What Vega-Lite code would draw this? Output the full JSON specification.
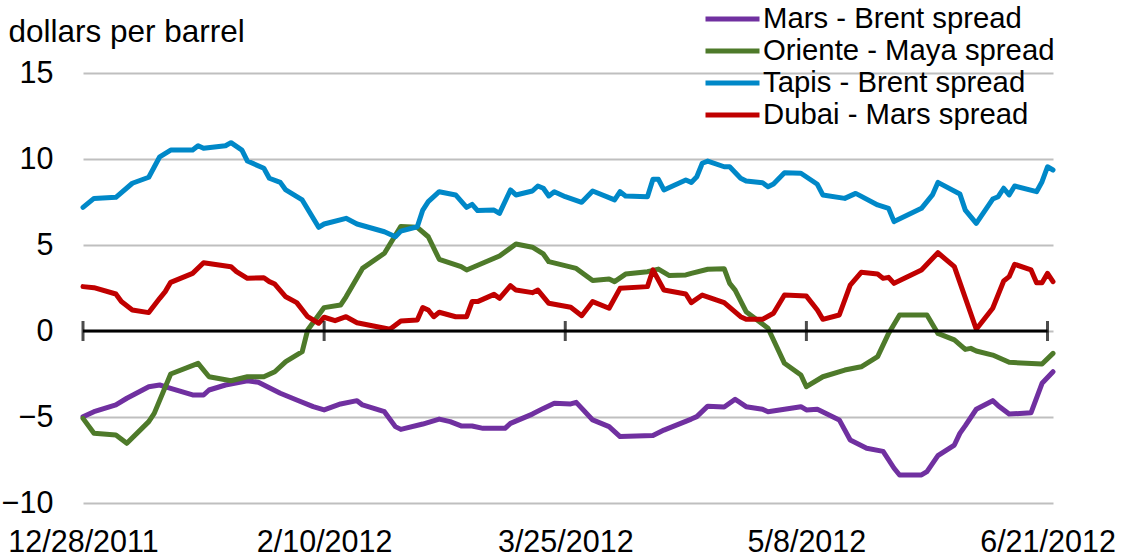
{
  "$schema": "https://vega.github.io/schema/vega-lite/v6.json",
  "width": 970,
  "height": 430,
  "autosize": {"type": "none"},
  "padding": {"left": 83, "top": 73, "right": 68, "bottom": 53},
  "config": {
    "view": {"stroke": null},
    "font": "Liberation Sans",
    "axis": {"labelFont": "Liberation Sans", "labelColor": "#000000"},
    "legend": {"labelFont": "Liberation Sans"}
  },
  "datasets": {
    "spreads": [
      {"s":"Mars - Brent spread","d":"2011-12-28","v":-4.98},
      {"s":"Mars - Brent spread","d":"2011-12-30","v":-4.69},
      {"s":"Mars - Brent spread","d":"2012-01-03","v":-4.3},
      {"s":"Mars - Brent spread","d":"2012-01-05","v":-3.91},
      {"s":"Mars - Brent spread","d":"2012-01-09","v":-3.24},
      {"s":"Mars - Brent spread","d":"2012-01-11","v":-3.14},
      {"s":"Mars - Brent spread","d":"2012-01-13","v":-3.33},
      {"s":"Mars - Brent spread","d":"2012-01-17","v":-3.72},
      {"s":"Mars - Brent spread","d":"2012-01-19","v":-3.72},
      {"s":"Mars - Brent spread","d":"2012-01-20","v":-3.43},
      {"s":"Mars - Brent spread","d":"2012-01-23","v":-3.14},
      {"s":"Mars - Brent spread","d":"2012-01-27","v":-2.89},
      {"s":"Mars - Brent spread","d":"2012-01-29","v":-2.98},
      {"s":"Mars - Brent spread","d":"2012-02-02","v":-3.62},
      {"s":"Mars - Brent spread","d":"2012-02-05","v":-4.01},
      {"s":"Mars - Brent spread","d":"2012-02-08","v":-4.4},
      {"s":"Mars - Brent spread","d":"2012-02-10","v":-4.59},
      {"s":"Mars - Brent spread","d":"2012-02-13","v":-4.24},
      {"s":"Mars - Brent spread","d":"2012-02-16","v":-4.05},
      {"s":"Mars - Brent spread","d":"2012-02-17","v":-4.3},
      {"s":"Mars - Brent spread","d":"2012-02-21","v":-4.69},
      {"s":"Mars - Brent spread","d":"2012-02-23","v":-5.56},
      {"s":"Mars - Brent spread","d":"2012-02-24","v":-5.72},
      {"s":"Mars - Brent spread","d":"2012-02-28","v":-5.41},
      {"s":"Mars - Brent spread","d":"2012-03-02","v":-5.12},
      {"s":"Mars - Brent spread","d":"2012-03-04","v":-5.27},
      {"s":"Mars - Brent spread","d":"2012-03-06","v":-5.52},
      {"s":"Mars - Brent spread","d":"2012-03-08","v":-5.52},
      {"s":"Mars - Brent spread","d":"2012-03-10","v":-5.66},
      {"s":"Mars - Brent spread","d":"2012-03-14","v":-5.66},
      {"s":"Mars - Brent spread","d":"2012-03-15","v":-5.37},
      {"s":"Mars - Brent spread","d":"2012-03-19","v":-4.83},
      {"s":"Mars - Brent spread","d":"2012-03-21","v":-4.5},
      {"s":"Mars - Brent spread","d":"2012-03-23","v":-4.2},
      {"s":"Mars - Brent spread","d":"2012-03-26","v":-4.24},
      {"s":"Mars - Brent spread","d":"2012-03-27","v":-4.15},
      {"s":"Mars - Brent spread","d":"2012-03-30","v":-5.17},
      {"s":"Mars - Brent spread","d":"2012-04-02","v":-5.56},
      {"s":"Mars - Brent spread","d":"2012-04-04","v":-6.14},
      {"s":"Mars - Brent spread","d":"2012-04-10","v":-6.08},
      {"s":"Mars - Brent spread","d":"2012-04-12","v":-5.76},
      {"s":"Mars - Brent spread","d":"2012-04-17","v":-5.12},
      {"s":"Mars - Brent spread","d":"2012-04-18","v":-4.98},
      {"s":"Mars - Brent spread","d":"2012-04-20","v":-4.37},
      {"s":"Mars - Brent spread","d":"2012-04-23","v":-4.42},
      {"s":"Mars - Brent spread","d":"2012-04-25","v":-3.97},
      {"s":"Mars - Brent spread","d":"2012-04-27","v":-4.4},
      {"s":"Mars - Brent spread","d":"2012-04-30","v":-4.55},
      {"s":"Mars - Brent spread","d":"2012-05-01","v":-4.69},
      {"s":"Mars - Brent spread","d":"2012-05-04","v":-4.55},
      {"s":"Mars - Brent spread","d":"2012-05-07","v":-4.4},
      {"s":"Mars - Brent spread","d":"2012-05-08","v":-4.59},
      {"s":"Mars - Brent spread","d":"2012-05-10","v":-4.55},
      {"s":"Mars - Brent spread","d":"2012-05-14","v":-5.17},
      {"s":"Mars - Brent spread","d":"2012-05-16","v":-6.34},
      {"s":"Mars - Brent spread","d":"2012-05-19","v":-6.82},
      {"s":"Mars - Brent spread","d":"2012-05-22","v":-7.0},
      {"s":"Mars - Brent spread","d":"2012-05-24","v":-7.98},
      {"s":"Mars - Brent spread","d":"2012-05-25","v":-8.37},
      {"s":"Mars - Brent spread","d":"2012-05-29","v":-8.37},
      {"s":"Mars - Brent spread","d":"2012-05-30","v":-8.18},
      {"s":"Mars - Brent spread","d":"2012-06-01","v":-7.25},
      {"s":"Mars - Brent spread","d":"2012-06-04","v":-6.63},
      {"s":"Mars - Brent spread","d":"2012-06-05","v":-5.95},
      {"s":"Mars - Brent spread","d":"2012-06-06","v":-5.5},
      {"s":"Mars - Brent spread","d":"2012-06-08","v":-4.55},
      {"s":"Mars - Brent spread","d":"2012-06-11","v":-4.05},
      {"s":"Mars - Brent spread","d":"2012-06-12","v":-4.34},
      {"s":"Mars - Brent spread","d":"2012-06-14","v":-4.83},
      {"s":"Mars - Brent spread","d":"2012-06-18","v":-4.75},
      {"s":"Mars - Brent spread","d":"2012-06-20","v":-3.04},
      {"s":"Mars - Brent spread","d":"2012-06-22","v":-2.37},

      {"s":"Oriente - Maya spread","d":"2011-12-28","v":-5.08},
      {"s":"Oriente - Maya spread","d":"2011-12-30","v":-5.95},
      {"s":"Oriente - Maya spread","d":"2012-01-03","v":-6.05},
      {"s":"Oriente - Maya spread","d":"2012-01-05","v":-6.53},
      {"s":"Oriente - Maya spread","d":"2012-01-09","v":-5.27},
      {"s":"Oriente - Maya spread","d":"2012-01-10","v":-4.79},
      {"s":"Oriente - Maya spread","d":"2012-01-13","v":-2.5},
      {"s":"Oriente - Maya spread","d":"2012-01-18","v":-1.88},
      {"s":"Oriente - Maya spread","d":"2012-01-20","v":-2.66},
      {"s":"Oriente - Maya spread","d":"2012-01-24","v":-2.89},
      {"s":"Oriente - Maya spread","d":"2012-01-27","v":-2.66},
      {"s":"Oriente - Maya spread","d":"2012-01-30","v":-2.66},
      {"s":"Oriente - Maya spread","d":"2012-02-01","v":-2.37},
      {"s":"Oriente - Maya spread","d":"2012-02-03","v":-1.78},
      {"s":"Oriente - Maya spread","d":"2012-02-06","v":-1.2},
      {"s":"Oriente - Maya spread","d":"2012-02-07","v":0.06},
      {"s":"Oriente - Maya spread","d":"2012-02-09","v":0.93},
      {"s":"Oriente - Maya spread","d":"2012-02-10","v":1.36},
      {"s":"Oriente - Maya spread","d":"2012-02-13","v":1.51},
      {"s":"Oriente - Maya spread","d":"2012-02-14","v":1.99},
      {"s":"Oriente - Maya spread","d":"2012-02-17","v":3.64},
      {"s":"Oriente - Maya spread","d":"2012-02-21","v":4.52},
      {"s":"Oriente - Maya spread","d":"2012-02-24","v":6.08},
      {"s":"Oriente - Maya spread","d":"2012-02-27","v":6.03},
      {"s":"Oriente - Maya spread","d":"2012-02-29","v":5.48},
      {"s":"Oriente - Maya spread","d":"2012-03-02","v":4.17},
      {"s":"Oriente - Maya spread","d":"2012-03-06","v":3.74},
      {"s":"Oriente - Maya spread","d":"2012-03-07","v":3.55},
      {"s":"Oriente - Maya spread","d":"2012-03-13","v":4.36},
      {"s":"Oriente - Maya spread","d":"2012-03-16","v":5.06},
      {"s":"Oriente - Maya spread","d":"2012-03-19","v":4.87},
      {"s":"Oriente - Maya spread","d":"2012-03-21","v":4.48},
      {"s":"Oriente - Maya spread","d":"2012-03-22","v":4.03},
      {"s":"Oriente - Maya spread","d":"2012-03-27","v":3.64},
      {"s":"Oriente - Maya spread","d":"2012-03-30","v":2.93},
      {"s":"Oriente - Maya spread","d":"2012-04-02","v":3.02},
      {"s":"Oriente - Maya spread","d":"2012-04-03","v":2.87},
      {"s":"Oriente - Maya spread","d":"2012-04-05","v":3.31},
      {"s":"Oriente - Maya spread","d":"2012-04-09","v":3.45},
      {"s":"Oriente - Maya spread","d":"2012-04-11","v":3.6},
      {"s":"Oriente - Maya spread","d":"2012-04-13","v":3.22},
      {"s":"Oriente - Maya spread","d":"2012-04-16","v":3.26},
      {"s":"Oriente - Maya spread","d":"2012-04-17","v":3.35},
      {"s":"Oriente - Maya spread","d":"2012-04-20","v":3.59},
      {"s":"Oriente - Maya spread","d":"2012-04-23","v":3.62},
      {"s":"Oriente - Maya spread","d":"2012-04-24","v":2.77},
      {"s":"Oriente - Maya spread","d":"2012-04-25","v":2.38},
      {"s":"Oriente - Maya spread","d":"2012-04-27","v":1.12},
      {"s":"Oriente - Maya spread","d":"2012-05-01","v":0.16},
      {"s":"Oriente - Maya spread","d":"2012-05-04","v":-1.88},
      {"s":"Oriente - Maya spread","d":"2012-05-07","v":-2.56},
      {"s":"Oriente - Maya spread","d":"2012-05-08","v":-3.24},
      {"s":"Oriente - Maya spread","d":"2012-05-11","v":-2.66},
      {"s":"Oriente - Maya spread","d":"2012-05-15","v":-2.27},
      {"s":"Oriente - Maya spread","d":"2012-05-18","v":-2.08},
      {"s":"Oriente - Maya spread","d":"2012-05-21","v":-1.49},
      {"s":"Oriente - Maya spread","d":"2012-05-23","v":-0.14},
      {"s":"Oriente - Maya spread","d":"2012-05-25","v":0.93},
      {"s":"Oriente - Maya spread","d":"2012-05-30","v":0.93},
      {"s":"Oriente - Maya spread","d":"2012-06-01","v":-0.14},
      {"s":"Oriente - Maya spread","d":"2012-06-04","v":-0.52},
      {"s":"Oriente - Maya spread","d":"2012-06-06","v":-1.07},
      {"s":"Oriente - Maya spread","d":"2012-06-07","v":-1.01},
      {"s":"Oriente - Maya spread","d":"2012-06-08","v":-1.16},
      {"s":"Oriente - Maya spread","d":"2012-06-11","v":-1.4},
      {"s":"Oriente - Maya spread","d":"2012-06-14","v":-1.82},
      {"s":"Oriente - Maya spread","d":"2012-06-20","v":-1.92},
      {"s":"Oriente - Maya spread","d":"2012-06-22","v":-1.3},

      {"s":"Tapis - Brent spread","d":"2011-12-28","v":7.19},
      {"s":"Tapis - Brent spread","d":"2011-12-30","v":7.71},
      {"s":"Tapis - Brent spread","d":"2012-01-03","v":7.77},
      {"s":"Tapis - Brent spread","d":"2012-01-06","v":8.59},
      {"s":"Tapis - Brent spread","d":"2012-01-09","v":8.94},
      {"s":"Tapis - Brent spread","d":"2012-01-11","v":10.13},
      {"s":"Tapis - Brent spread","d":"2012-01-13","v":10.52},
      {"s":"Tapis - Brent spread","d":"2012-01-17","v":10.52},
      {"s":"Tapis - Brent spread","d":"2012-01-18","v":10.77},
      {"s":"Tapis - Brent spread","d":"2012-01-19","v":10.62},
      {"s":"Tapis - Brent spread","d":"2012-01-23","v":10.77},
      {"s":"Tapis - Brent spread","d":"2012-01-24","v":10.95},
      {"s":"Tapis - Brent spread","d":"2012-01-26","v":10.52},
      {"s":"Tapis - Brent spread","d":"2012-01-27","v":9.88},
      {"s":"Tapis - Brent spread","d":"2012-01-30","v":9.46},
      {"s":"Tapis - Brent spread","d":"2012-01-31","v":8.88},
      {"s":"Tapis - Brent spread","d":"2012-02-02","v":8.64},
      {"s":"Tapis - Brent spread","d":"2012-02-03","v":8.2},
      {"s":"Tapis - Brent spread","d":"2012-02-06","v":7.62},
      {"s":"Tapis - Brent spread","d":"2012-02-09","v":6.03},
      {"s":"Tapis - Brent spread","d":"2012-02-10","v":6.22},
      {"s":"Tapis - Brent spread","d":"2012-02-14","v":6.55},
      {"s":"Tapis - Brent spread","d":"2012-02-16","v":6.22},
      {"s":"Tapis - Brent spread","d":"2012-02-21","v":5.77},
      {"s":"Tapis - Brent spread","d":"2012-02-23","v":5.48},
      {"s":"Tapis - Brent spread","d":"2012-02-24","v":5.81},
      {"s":"Tapis - Brent spread","d":"2012-02-27","v":6.06},
      {"s":"Tapis - Brent spread","d":"2012-02-28","v":7.03},
      {"s":"Tapis - Brent spread","d":"2012-02-29","v":7.52},
      {"s":"Tapis - Brent spread","d":"2012-03-02","v":8.1},
      {"s":"Tapis - Brent spread","d":"2012-03-05","v":7.91},
      {"s":"Tapis - Brent spread","d":"2012-03-07","v":7.19},
      {"s":"Tapis - Brent spread","d":"2012-03-08","v":7.36},
      {"s":"Tapis - Brent spread","d":"2012-03-09","v":7.0},
      {"s":"Tapis - Brent spread","d":"2012-03-12","v":7.03},
      {"s":"Tapis - Brent spread","d":"2012-03-13","v":6.84},
      {"s":"Tapis - Brent spread","d":"2012-03-15","v":8.2},
      {"s":"Tapis - Brent spread","d":"2012-03-16","v":7.91},
      {"s":"Tapis - Brent spread","d":"2012-03-19","v":8.14},
      {"s":"Tapis - Brent spread","d":"2012-03-20","v":8.43},
      {"s":"Tapis - Brent spread","d":"2012-03-21","v":8.3},
      {"s":"Tapis - Brent spread","d":"2012-03-22","v":7.85},
      {"s":"Tapis - Brent spread","d":"2012-03-23","v":8.1},
      {"s":"Tapis - Brent spread","d":"2012-03-25","v":7.81},
      {"s":"Tapis - Brent spread","d":"2012-03-28","v":7.48},
      {"s":"Tapis - Brent spread","d":"2012-03-30","v":8.14},
      {"s":"Tapis - Brent spread","d":"2012-04-03","v":7.62},
      {"s":"Tapis - Brent spread","d":"2012-04-04","v":8.1},
      {"s":"Tapis - Brent spread","d":"2012-04-05","v":7.85},
      {"s":"Tapis - Brent spread","d":"2012-04-09","v":7.81},
      {"s":"Tapis - Brent spread","d":"2012-04-10","v":8.82},
      {"s":"Tapis - Brent spread","d":"2012-04-11","v":8.82},
      {"s":"Tapis - Brent spread","d":"2012-04-12","v":8.2},
      {"s":"Tapis - Brent spread","d":"2012-04-16","v":8.78},
      {"s":"Tapis - Brent spread","d":"2012-04-17","v":8.64},
      {"s":"Tapis - Brent spread","d":"2012-04-18","v":8.97},
      {"s":"Tapis - Brent spread","d":"2012-04-19","v":9.75},
      {"s":"Tapis - Brent spread","d":"2012-04-20","v":9.88},
      {"s":"Tapis - Brent spread","d":"2012-04-23","v":9.55},
      {"s":"Tapis - Brent spread","d":"2012-04-24","v":9.55},
      {"s":"Tapis - Brent spread","d":"2012-04-26","v":8.88},
      {"s":"Tapis - Brent spread","d":"2012-04-27","v":8.72},
      {"s":"Tapis - Brent spread","d":"2012-04-30","v":8.62},
      {"s":"Tapis - Brent spread","d":"2012-05-01","v":8.39},
      {"s":"Tapis - Brent spread","d":"2012-05-02","v":8.55},
      {"s":"Tapis - Brent spread","d":"2012-05-04","v":9.2},
      {"s":"Tapis - Brent spread","d":"2012-05-07","v":9.17},
      {"s":"Tapis - Brent spread","d":"2012-05-10","v":8.53},
      {"s":"Tapis - Brent spread","d":"2012-05-11","v":7.91},
      {"s":"Tapis - Brent spread","d":"2012-05-15","v":7.71},
      {"s":"Tapis - Brent spread","d":"2012-05-17","v":8.0},
      {"s":"Tapis - Brent spread","d":"2012-05-21","v":7.33},
      {"s":"Tapis - Brent spread","d":"2012-05-23","v":7.13},
      {"s":"Tapis - Brent spread","d":"2012-05-24","v":6.36},
      {"s":"Tapis - Brent spread","d":"2012-05-29","v":7.13},
      {"s":"Tapis - Brent spread","d":"2012-05-31","v":7.91},
      {"s":"Tapis - Brent spread","d":"2012-06-01","v":8.64},
      {"s":"Tapis - Brent spread","d":"2012-06-05","v":7.97},
      {"s":"Tapis - Brent spread","d":"2012-06-06","v":7.03},
      {"s":"Tapis - Brent spread","d":"2012-06-08","v":6.26},
      {"s":"Tapis - Brent spread","d":"2012-06-11","v":7.67},
      {"s":"Tapis - Brent spread","d":"2012-06-12","v":7.81},
      {"s":"Tapis - Brent spread","d":"2012-06-13","v":8.3},
      {"s":"Tapis - Brent spread","d":"2012-06-14","v":7.91},
      {"s":"Tapis - Brent spread","d":"2012-06-15","v":8.43},
      {"s":"Tapis - Brent spread","d":"2012-06-19","v":8.1},
      {"s":"Tapis - Brent spread","d":"2012-06-20","v":8.68},
      {"s":"Tapis - Brent spread","d":"2012-06-21","v":9.55},
      {"s":"Tapis - Brent spread","d":"2012-06-22","v":9.36},

      {"s":"Dubai - Mars spread","d":"2011-12-28","v":2.58},
      {"s":"Dubai - Mars spread","d":"2011-12-30","v":2.52},
      {"s":"Dubai - Mars spread","d":"2012-01-03","v":2.15},
      {"s":"Dubai - Mars spread","d":"2012-01-04","v":1.71},
      {"s":"Dubai - Mars spread","d":"2012-01-06","v":1.22},
      {"s":"Dubai - Mars spread","d":"2012-01-09","v":1.07},
      {"s":"Dubai - Mars spread","d":"2012-01-11","v":1.9},
      {"s":"Dubai - Mars spread","d":"2012-01-12","v":2.29},
      {"s":"Dubai - Mars spread","d":"2012-01-13","v":2.83},
      {"s":"Dubai - Mars spread","d":"2012-01-17","v":3.35},
      {"s":"Dubai - Mars spread","d":"2012-01-19","v":3.97},
      {"s":"Dubai - Mars spread","d":"2012-01-24","v":3.74},
      {"s":"Dubai - Mars spread","d":"2012-01-25","v":3.45},
      {"s":"Dubai - Mars spread","d":"2012-01-27","v":3.06},
      {"s":"Dubai - Mars spread","d":"2012-01-30","v":3.1},
      {"s":"Dubai - Mars spread","d":"2012-01-31","v":2.87},
      {"s":"Dubai - Mars spread","d":"2012-02-01","v":2.73},
      {"s":"Dubai - Mars spread","d":"2012-02-03","v":1.99},
      {"s":"Dubai - Mars spread","d":"2012-02-05","v":1.65},
      {"s":"Dubai - Mars spread","d":"2012-02-07","v":0.83},
      {"s":"Dubai - Mars spread","d":"2012-02-09","v":0.45},
      {"s":"Dubai - Mars spread","d":"2012-02-10","v":0.8},
      {"s":"Dubai - Mars spread","d":"2012-02-12","v":0.6},
      {"s":"Dubai - Mars spread","d":"2012-02-14","v":0.83},
      {"s":"Dubai - Mars spread","d":"2012-02-16","v":0.48},
      {"s":"Dubai - Mars spread","d":"2012-02-22","v":0.1},
      {"s":"Dubai - Mars spread","d":"2012-02-24","v":0.58},
      {"s":"Dubai - Mars spread","d":"2012-02-27","v":0.64},
      {"s":"Dubai - Mars spread","d":"2012-02-28","v":1.36},
      {"s":"Dubai - Mars spread","d":"2012-02-29","v":1.22},
      {"s":"Dubai - Mars spread","d":"2012-03-01","v":0.83},
      {"s":"Dubai - Mars spread","d":"2012-03-02","v":1.09},
      {"s":"Dubai - Mars spread","d":"2012-03-05","v":0.83},
      {"s":"Dubai - Mars spread","d":"2012-03-07","v":0.83},
      {"s":"Dubai - Mars spread","d":"2012-03-08","v":1.71},
      {"s":"Dubai - Mars spread","d":"2012-03-09","v":1.71},
      {"s":"Dubai - Mars spread","d":"2012-03-12","v":2.13},
      {"s":"Dubai - Mars spread","d":"2012-03-13","v":1.9},
      {"s":"Dubai - Mars spread","d":"2012-03-15","v":2.64},
      {"s":"Dubai - Mars spread","d":"2012-03-16","v":2.38},
      {"s":"Dubai - Mars spread","d":"2012-03-19","v":2.23},
      {"s":"Dubai - Mars spread","d":"2012-03-20","v":2.38},
      {"s":"Dubai - Mars spread","d":"2012-03-22","v":1.61},
      {"s":"Dubai - Mars spread","d":"2012-03-26","v":1.38},
      {"s":"Dubai - Mars spread","d":"2012-03-28","v":0.89},
      {"s":"Dubai - Mars spread","d":"2012-03-30","v":1.71},
      {"s":"Dubai - Mars spread","d":"2012-04-02","v":1.32},
      {"s":"Dubai - Mars spread","d":"2012-04-04","v":2.48},
      {"s":"Dubai - Mars spread","d":"2012-04-09","v":2.58},
      {"s":"Dubai - Mars spread","d":"2012-04-10","v":3.55},
      {"s":"Dubai - Mars spread","d":"2012-04-12","v":2.38},
      {"s":"Dubai - Mars spread","d":"2012-04-16","v":2.15},
      {"s":"Dubai - Mars spread","d":"2012-04-17","v":1.65},
      {"s":"Dubai - Mars spread","d":"2012-04-19","v":2.09},
      {"s":"Dubai - Mars spread","d":"2012-04-23","v":1.65},
      {"s":"Dubai - Mars spread","d":"2012-04-26","v":0.83},
      {"s":"Dubai - Mars spread","d":"2012-04-27","v":0.68},
      {"s":"Dubai - Mars spread","d":"2012-04-30","v":0.68},
      {"s":"Dubai - Mars spread","d":"2012-05-02","v":1.03},
      {"s":"Dubai - Mars spread","d":"2012-05-04","v":2.09},
      {"s":"Dubai - Mars spread","d":"2012-05-08","v":2.03},
      {"s":"Dubai - Mars spread","d":"2012-05-10","v":1.22},
      {"s":"Dubai - Mars spread","d":"2012-05-11","v":0.68},
      {"s":"Dubai - Mars spread","d":"2012-05-14","v":0.93},
      {"s":"Dubai - Mars spread","d":"2012-05-16","v":2.67},
      {"s":"Dubai - Mars spread","d":"2012-05-18","v":3.41},
      {"s":"Dubai - Mars spread","d":"2012-05-21","v":3.31},
      {"s":"Dubai - Mars spread","d":"2012-05-22","v":3.06},
      {"s":"Dubai - Mars spread","d":"2012-05-23","v":3.12},
      {"s":"Dubai - Mars spread","d":"2012-05-24","v":2.77},
      {"s":"Dubai - Mars spread","d":"2012-05-29","v":3.55},
      {"s":"Dubai - Mars spread","d":"2012-06-01","v":4.55},
      {"s":"Dubai - Mars spread","d":"2012-06-04","v":3.74},
      {"s":"Dubai - Mars spread","d":"2012-06-08","v":0.1},
      {"s":"Dubai - Mars spread","d":"2012-06-11","v":1.32},
      {"s":"Dubai - Mars spread","d":"2012-06-13","v":2.91},
      {"s":"Dubai - Mars spread","d":"2012-06-14","v":3.16},
      {"s":"Dubai - Mars spread","d":"2012-06-15","v":3.88},
      {"s":"Dubai - Mars spread","d":"2012-06-18","v":3.55},
      {"s":"Dubai - Mars spread","d":"2012-06-19","v":2.81},
      {"s":"Dubai - Mars spread","d":"2012-06-20","v":2.81},
      {"s":"Dubai - Mars spread","d":"2012-06-21","v":3.35},
      {"s":"Dubai - Mars spread","d":"2012-06-22","v":2.87}
    ],
    "ticks": [
      {"d":"2011-12-28"},{"d":"2012-02-10"},{"d":"2012-03-25"},{"d":"2012-05-08"},{"d":"2012-06-21"}
    ],
    "zero": [{"a":"2011-12-28","b":"2012-06-21"}]
  },
  "layer": [
    {
      "data": {"name": "spreads"},
      "mark": {"type": "line", "strokeWidth": 5, "strokeJoin": "round", "strokeCap": "round"},
      "encoding": {
        "x": {
          "field": "d", "type": "temporal",
          "scale": {"type": "utc", "domain": [{"year": 2011, "month": 12, "date": 28, "utc": true}, {"year": 2012, "month": 6, "date": 22, "utc": true}]},
          "axis": {
            "title": null, "grid": false, "domain": false, "ticks": false,
            "values": [
              {"year": 2011, "month": 12, "date": 28, "utc": true},
              {"year": 2012, "month": 2, "date": 10, "utc": true},
              {"year": 2012, "month": 3, "date": 25, "utc": true},
              {"year": 2012, "month": 5, "date": 8, "utc": true},
              {"year": 2012, "month": 6, "date": 21, "utc": true}
            ],
            "labelExpr": "utcFormat(datum.value, '%-m/%-d/%Y')",
            "labelFontSize": 30.5,
            "labelPadding": 24, "labelFlush": false, "labelOverlap": false
          }
        },
        "y": {
          "field": "v", "type": "quantitative",
          "scale": {"domain": [-10, 15], "nice": false, "zero": false},
          "axis": {
            "title": "dollars per barrel", "titleAngle": 0, "titleAlign": "left", "titleBaseline": "alphabetic",
            "titleX": -75, "titleY": -32, "titleFontSize": 31.5, "titleFontWeight": "normal", "titleFont": "Liberation Sans", "titleColor": "#000000",
            "values": [-10, -5, 0, 5, 10, 15], "grid": true, "gridColor": "#BFBFBF", "gridWidth": 2,
            "domain": false, "ticks": false, "labelPadding": 30, "labelFontSize": 30.5
          }
        },
        "color": {
          "field": "s", "type": "nominal",
          "scale": {
            "domain": ["Mars - Brent spread", "Oriente - Maya spread", "Tapis - Brent spread", "Dubai - Mars spread"],
            "range": ["#7030A0", "#4E7A2A", "#0088C8", "#C00000"]
          },
          "legend": {
            "title": null, "orient": "none", "legendX": 633.5, "legendY": -70,
            "symbolType": "M-2,0H2", "symbolSize": 729, "symbolStrokeWidth": 5,
            "labelFontSize": 29.3, "labelColor": "#000000", "labelOffset": 14.5, "rowPadding": 0, "padding": 0,
            "labelLimit": 400
          }
        }
      }
    },
    {
      "data": {"name": "zero"},
      "mark": {"type": "rule", "color": "#000000", "strokeWidth": 3},
      "encoding": {
        "x": {"field": "a", "type": "temporal"},
        "x2": {"field": "b"},
        "y": {"datum": 0}
      }
    },
    {
      "data": {"name": "ticks"},
      "mark": {"type": "tick", "orient": "vertical", "color": "#000000", "size": 20, "thickness": 3},
      "encoding": {
        "x": {"field": "d", "type": "temporal"},
        "y": {"datum": 0}
      }
    }
  ]
}
